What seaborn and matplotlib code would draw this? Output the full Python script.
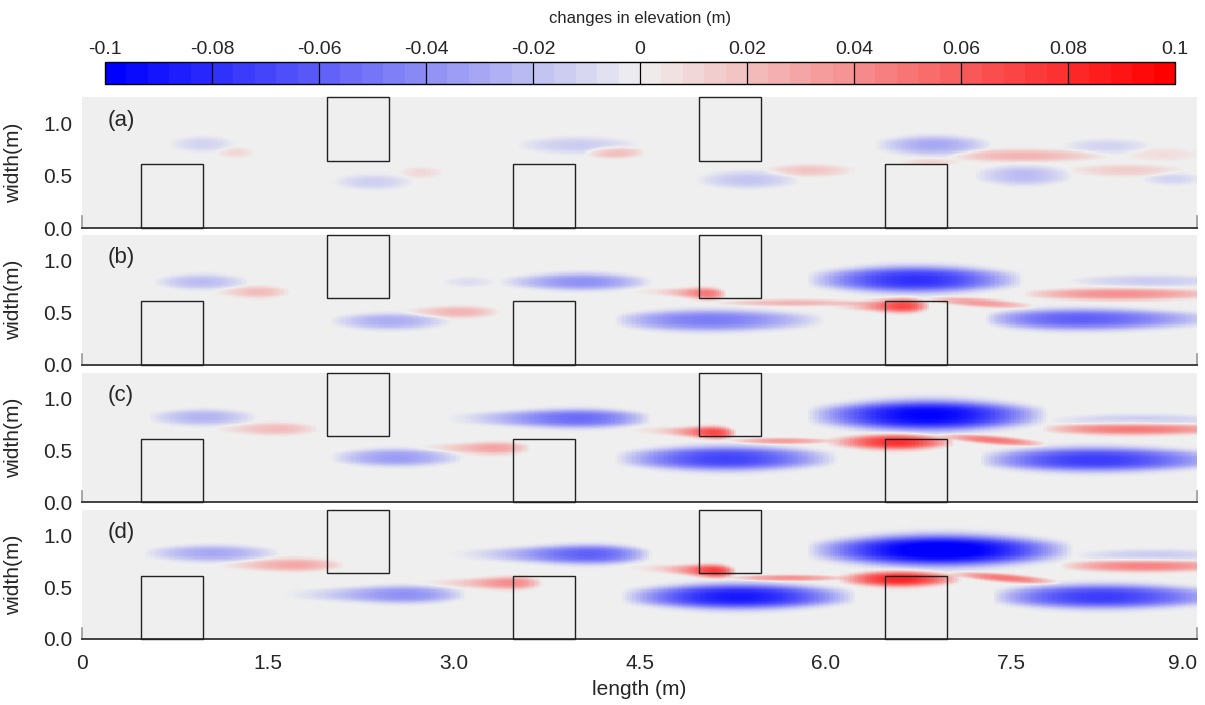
import numpy as np
import pandas as pd
import matplotlib
matplotlib.use("Agg")
import matplotlib.pyplot as plt
import seaborn as sns
from matplotlib.colors import LinearSegmentedColormap, Normalize
from matplotlib.patches import Rectangle
from matplotlib.cm import ScalarMappable

sns.set_theme(style="white")
plt.rcParams["font.family"] = ["Liberation Sans", "DejaVu Sans"]

# ---------------- data ----------------
LENGTH = 9.0
WIDTH = 1.25
panel_labels = ["(a)", "(b)", "(c)", "(d)"]
xticks = [0, 1.5, 3.0, 4.5, 6.0, 7.5, 9.0]
xticklabels = ["0", "1.5", "3.0", "4.5", "6.0", "7.5", "9.0"]
yticks = [0.0, 0.5, 1.0]
yticklabels = ["0.0", "0.5", "1.0"]
cbar_ticks = [-0.1, -0.08, -0.06, -0.04, -0.02, 0, 0.02, 0.04, 0.06, 0.08, 0.1]
cbar_labels = ["-0.1", "-0.08", "-0.06", "-0.04", "-0.02", "0",
               "0.02", "0.04", "0.06", "0.08", "0.1"]

# obstacles (m)
box_x = [0.48, 1.98, 3.48, 4.98, 6.48]
box_y = [0.0, 0.64, 0.0, 0.64, 0.0]
box_w = [0.5, 0.5, 0.5, 0.5, 0.5]
box_h = [0.615, 0.61, 0.615, 0.61, 0.615]

# scour / deposition zones:
# (x start, x end, centre y, visible half width, peak change, y slope, peak position)
zones_a = [
    (0.70, 1.25, 0.80, 0.075, -0.012, 0.0, 0.5),
    (1.08, 1.40, 0.72, 0.050, 0.010, 0.0, 0.5),
    (2.02, 2.68, 0.44, 0.075, -0.014, 0.0, 0.5),
    (2.55, 2.92, 0.53, 0.050, 0.010, 0.0, 0.5),
    (3.50, 4.50, 0.79, 0.080, -0.015, 0.0, 0.5),
    (4.05, 4.55, 0.72, 0.055, 0.022, 0.0, 0.5),
    (4.95, 5.80, 0.46, 0.085, -0.018, 0.0, 0.5),
    (5.50, 6.25, 0.55, 0.055, 0.018, 0.0, 0.5),
    (6.40, 7.35, 0.79, 0.095, -0.030, 0.0, 0.5),
    (6.60, 7.10, 0.63, 0.035, 0.012, 0.0, 0.5),
    (7.00, 8.30, 0.69, 0.060, 0.025, 0.0, 0.45),
    (7.20, 8.00, 0.50, 0.095, -0.022, 0.0, 0.5),
    (7.90, 8.65, 0.78, 0.070, -0.012, 0.0, 0.5),
    (7.95, 8.90, 0.55, 0.055, 0.015, 0.0, 0.5),
    (8.55, 9.05, 0.47, 0.060, -0.012, 0.0, 0.5),
    (8.40, 9.05, 0.70, 0.060, 0.008, 0.0, 0.5),
]
zones_b = [
    (0.58, 1.35, 0.80, 0.075, -0.022, 0.0, 0.5),
    (1.05, 1.68, 0.70, 0.060, 0.022, 0.0, 0.6),
    (2.00, 2.98, 0.42, 0.080, -0.028, 0.0, 0.5),
    (2.55, 3.38, 0.51, 0.060, 0.025, 0.0, 0.6),
    (2.90, 3.35, 0.80, 0.050, -0.008, 0.0, 0.5),
    (3.35, 4.60, 0.80, 0.085, -0.040, 0.0, 0.55),
    (4.15, 5.20, 0.70, 0.060, 0.050, -0.04, 0.85),
    (5.10, 6.40, 0.60, 0.032, 0.025, 0.0, 0.5),
    (4.30, 6.00, 0.43, 0.105, -0.048, 0.0, 0.45),
    (5.95, 6.85, 0.57, 0.070, 0.070, 0.0, 0.75),
    (5.85, 7.60, 0.82, 0.130, -0.080, 0.0, 0.5),
    (6.80, 7.70, 0.60, 0.040, 0.035, -0.08, 0.5),
    (7.60, 9.30, 0.68, 0.060, 0.040, 0.0, 0.45),
    (7.30, 9.20, 0.44, 0.105, -0.060, 0.0, 0.4),
    (7.95, 9.30, 0.81, 0.060, -0.015, 0.0, 0.5),
]
zones_c = [
    (0.53, 1.42, 0.82, 0.078, -0.025, 0.0, 0.5),
    (1.05, 1.92, 0.71, 0.062, 0.022, 0.0, 0.6),
    (2.00, 3.08, 0.43, 0.085, -0.035, 0.0, 0.5),
    (2.50, 3.62, 0.52, 0.062, 0.032, 0.0, 0.75),
    (2.90, 4.60, 0.81, 0.092, -0.055, 0.0, 0.65),
    (4.10, 5.28, 0.69, 0.065, 0.070, -0.04, 0.85),
    (5.20, 6.10, 0.59, 0.032, 0.035, 0.0, 0.5),
    (4.30, 6.10, 0.42, 0.120, -0.072, 0.0, 0.5),
    (6.00, 7.05, 0.58, 0.080, 0.080, 0.0, 0.55),
    (5.85, 7.80, 0.84, 0.150, -0.100, 0.0, 0.5),
    (6.90, 7.80, 0.60, 0.042, 0.050, -0.10, 0.5),
    (7.75, 9.40, 0.71, 0.062, 0.050, 0.0, 0.45),
    (7.25, 9.30, 0.41, 0.120, -0.075, 0.0, 0.45),
    (7.80, 9.30, 0.79, 0.060, -0.015, 0.0, 0.5),
]
zones_d = [
    (0.50, 1.60, 0.83, 0.080, -0.030, 0.0, 0.5),
    (1.06, 2.12, 0.72, 0.065, 0.030, 0.0, 0.62),
    (1.55, 3.10, 0.43, 0.085, -0.040, 0.0, 0.68),
    (2.45, 3.72, 0.54, 0.065, 0.042, 0.0, 0.8),
    (2.90, 4.60, 0.82, 0.095, -0.060, 0.0, 0.7),
    (4.10, 5.28, 0.68, 0.068, 0.075, -0.05, 0.85),
    (5.20, 6.20, 0.59, 0.032, 0.040, 0.0, 0.5),
    (4.35, 6.25, 0.41, 0.125, -0.090, 0.0, 0.5),
    (6.10, 7.10, 0.58, 0.080, 0.085, 0.0, 0.5),
    (5.85, 8.00, 0.86, 0.155, -0.110, 0.0, 0.5),
    (7.00, 7.90, 0.59, 0.042, 0.050, -0.10, 0.5),
    (7.90, 9.40, 0.71, 0.062, 0.045, 0.0, 0.45),
    (7.35, 9.30, 0.41, 0.120, -0.075, 0.0, 0.45),
    (8.00, 9.30, 0.81, 0.060, -0.015, 0.0, 0.5),
]
panels = [zones_a, zones_b, zones_c, zones_d]

# ---------------- grid ----------------
nx, ny = 450, 125
dx, dy = LENGTH / nx, WIDTH / ny
xc = (np.arange(nx) + 0.5) * dx
yc = (np.arange(ny) + 0.5) * dy
X, Y = np.meshgrid(xc, yc)


def build_field(zones):
    Z = np.zeros_like(X)
    for x0, x1, ym, hw, amp, slope, pk in zones:
        t = np.clip((X - x0) / (x1 - x0), 0, 1)
        k = np.log(0.5) / np.log(pk)
        px = np.sin(np.pi * t ** k) ** 0.9
        ycen = ym + slope * (X - 0.5 * (x0 + x1))
        h = 0.92 * hw * (0.5 + 0.5 * px) + 1e-6
        py = np.exp(-np.abs((Y - ycen) / h) ** 3)
        Z += amp * px * py
    return Z


cols = [(0.0, 0.0, 1.0), (0.94, 0.94, 0.94), (1.0, 0.0, 0.0)]
cmap = LinearSegmentedColormap.from_list("elev", cols, N=256)
cmap_bar = LinearSegmentedColormap.from_list("elevbar", cols, N=50)

W, H = 1205, 705
fig = plt.figure(figsize=(W / 100, H / 100), dpi=100)
fig.patch.set_facecolor("white")

left = 82 / W
width = (1197 - 82) / W
panel_px = [(97, 228), (235, 365), (373, 502), (510, 639)]
FS = 15

for i, (zones, (top, bot)) in enumerate(zip(panels, panel_px)):
    ax = fig.add_axes([left, 1 - bot / H, width, (bot - top) / H])
    Z = build_field(zones)
    sns.heatmap(pd.DataFrame(Z), ax=ax, cmap=cmap, vmin=-0.1, vmax=0.1,
                cbar=False, xticklabels=False, yticklabels=False,
                rasterized=True)
    ax.set_xlim(0, nx)
    ax.set_ylim(0, ny)
    for bx, by, bw, bh in zip(box_x, box_y, box_w, box_h):
        ax.add_patch(Rectangle((bx / dx, by / dy), bw / dx, bh / dy,
                               fill=False, edgecolor="#222222", lw=1.0,
                               clip_on=False, zorder=5))
    ax.set_yticks(np.array(yticks) / dy)
    ax.set_yticklabels(yticklabels, fontsize=FS, rotation=0)
    ax.set_ylabel("width(m)", fontsize=FS, labelpad=8)
    ax.yaxis.set_label_coords(-0.053, 0.5)
    ax.set_xticks(np.array(xticks) / dx)
    if i == 3:
        ax.set_xticklabels(xticklabels, fontsize=FS)
        ax.get_xticklabels()[-1].set_horizontalalignment("right")
        ax.set_xlabel("length (m)", fontsize=FS, labelpad=5)
        ax.tick_params(axis="x", pad=11)
    else:
        ax.set_xticklabels([])
    ax.tick_params(length=0)
    ax.tick_params(axis="y", pad=7)
    for s in ax.spines.values():
        s.set_visible(False)
    ax.spines["bottom"].set_visible(True)
    ax.spines["bottom"].set_color("#333333")
    ax.spines["bottom"].set_linewidth(1.3)
    for side in ("left", "right"):
        ax.spines[side].set_visible(True)
        ax.spines[side].set_bounds(0, 0.11 / dy)
        ax.spines[side].set_color("#999999")
        ax.spines[side].set_linewidth(1.2)
    ax.text(0.21 / dx, 1.03 / dy, panel_labels[i], fontsize=FS + 1,
            ha="left", va="center")

# colour bar on top
cax = fig.add_axes([105 / W, 1 - 84 / H, 1070 / W, 22 / H])
sm = ScalarMappable(norm=Normalize(-0.1, 0.1), cmap=cmap_bar)
cb = fig.colorbar(sm, cax=cax, orientation="horizontal")
cb.set_ticks(cbar_ticks)
cb.set_ticklabels(cbar_labels)
cax.xaxis.set_ticks_position("top")
cax.tick_params(length=0, labelsize=14, pad=3)
for v in cbar_ticks[1:-1]:
    cax.axvline(v, color="black", lw=0.9)
cb.outline.set_edgecolor("black")
cb.outline.set_linewidth(1.0)
fig.text(640 / W, 1 - 18 / H, "changes in elevation (m)", fontsize=12,
         ha="center", va="center")

fig.savefig("out.png", dpi=100)
